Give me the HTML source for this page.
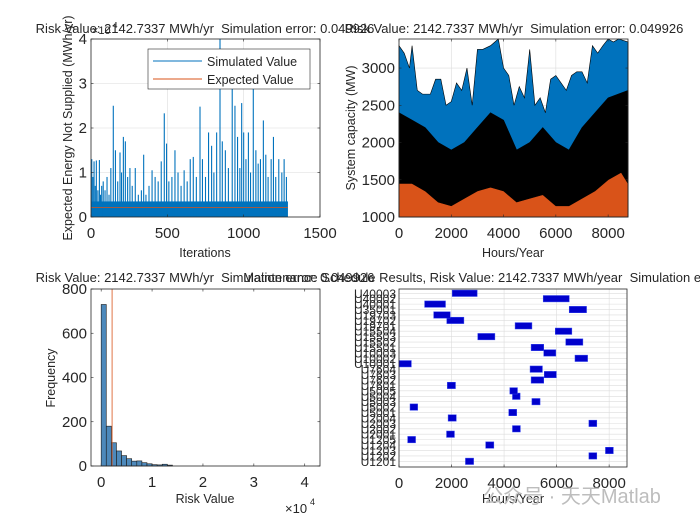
<!DOCTYPE html>
<html><head><meta charset="utf-8"><style>
body{margin:0;background:#fff;}
svg{display:block;font-family:"Liberation Sans",sans-serif;}
</style></head><body>
<svg id="fig" width="700" height="525" viewBox="0 0 700 525"></svg>
<script>
// ---- data ----
const eensIters=[5,12,20,28,35,45,55,62,70,80,92,105,118,130,146,160,175,190,200,212,225,240,255,270,290,310,330,345,360,380,400,420,440,460,480,495,510,530,550,570,590,610,630,650,670,690,714,730,750,770,790,805,823,845,860,880,900,925,943,960,975,987,1000,1015,1031,1045,1063,1080,1095,1110,1129,1145,1160,1180,1195,1210,1230,1250,1265,1280];
const eensVals=[1.3,0.9,1.25,0.7,1.27,0.6,1.28,0.5,0.7,0.8,0.6,0.9,0.5,1.1,2.5,1.5,0.8,1.45,1.0,1.8,1.7,0.9,1.1,0.7,1.1,0.5,0.6,1.4,0.5,0.7,1.05,0.9,0.8,1.25,2.33,1.65,0.8,0.9,1.5,1.0,0.7,1.05,0.8,1.3,1.35,0.9,2.48,1.3,0.9,1.9,1.6,1.0,1.9,4.0,1.7,1.5,1.1,2.93,2.5,1.8,1.1,2.56,1.9,1.3,1.9,1.0,2.9,1.5,1.2,1.3,2.17,1.4,0.9,1.3,1.8,0.9,1.3,1.0,1.3,0.9];
const eensBase=0.35, expectedRisk=2142.7337, nIter=1290;

const capHours=[0,200,400,500,700,900,1200,1400,1600,1800,2000,2200,2400,2600,2800,3000,3200,3500,3800,4000,4200,4400,4600,4800,5000,5200,5400,5600,5800,6000,6200,6400,6600,6800,7000,7200,7400,7600,7800,8000,8200,8400,8760];
const capTotal=[3300,3200,3000,3300,2700,2650,2650,2850,2850,2500,2550,2800,2700,3000,2500,3250,3250,3300,3400,3000,2900,2500,2750,2600,3250,2500,2600,2400,2850,2900,2800,2700,2900,2950,2950,2800,3300,3200,3300,3400,3350,3400,3350];
const availHours=[0,500,1000,1500,2000,2500,3000,3500,4000,4500,5000,5500,6000,6500,7000,7500,8000,8760];
const availCap=[2400,2300,2200,2000,1900,2000,2200,2400,2300,1900,2000,2200,2000,1900,2200,2400,2600,2700];
const loadHours=[0,500,1000,1500,2000,2500,3000,3500,4000,4500,5000,5500,6000,6500,7000,7500,8000,8500,8760];
const loadVals=[1450,1450,1350,1200,1150,1250,1350,1400,1350,1200,1250,1300,1150,1150,1250,1350,1500,1600,1450];

const histCounts=[730,180,105,68,47,33,22,23,15,10,6,5,8,4];
const binWidth=1000;

const unitNames=["U1201","U1202","U1203","U1204","U1205","U2001","U2002","U2003","U2004","U5001","U5002","U5003","U5004","U5005","U7601","U7602","U7603","U7604","U10001","U10002","U10003","U15501","U15502","U15503","U15504","U19701","U19702","U19703","U35001","U40001","U40002","U40003"];
const maintStart=[2530,7230,7860,3300,330,1810,4320,7230,1870,4180,420,5060,4320,4220,1840,5030,5530,4990,0,6700,5510,5030,6350,3000,5950,4420,1820,1320,6480,975,5490,2025];
const maintEnd=[2840,7530,8160,3610,630,2110,4620,7530,2180,4480,710,5370,4610,4510,2150,5510,5990,5460,470,7180,5970,5510,7000,3650,6580,5060,2470,1950,7140,1770,6480,2975];

// ---- helpers ----
const NS="http://www.w3.org/2000/svg", svg=document.getElementById('fig');
function mk(tag,attrs,parent){const e=document.createElementNS(NS,tag);for(const k in attrs)e.setAttribute(k,attrs[k]);(parent||svg).appendChild(e);return e;}
function txt(s,x,y,size,anchor,parent,extra){const t=mk('text',Object.assign({x:x,y:y,'font-size':size,'text-anchor':anchor||'middle',fill:'#262626'},extra||{}),parent);t.textContent=s;return t;}
function lin(d0,d1,r0,r1){return v=>r0+(v-d0)/(d1-d0)*(r1-r0);}

function axesFrame(L,T,R,B,xt,xs,yt,ys,grid,name){
  const g=mk('g',{});
  
  
  if(grid){xt.forEach(v=>{const x=xs(v);mk('line',{x1:x,x2:x,y1:T,y2:B,stroke:'#dcdcdc','stroke-width':0.6},g);});
           yt.forEach(v=>{const y=ys(v);mk('line',{x1:L,x2:R,y1:y,y2:y,stroke:'#dcdcdc','stroke-width':0.6},g);});}
  return g;
}
function box(L,T,R,B,xt,xs,xl,yt,ys,yl){
  mk('rect',{x:L,y:T,width:R-L,height:B-T,fill:'none',stroke:'#262626','stroke-width':0.8});
  xt.forEach((v,i)=>{const x=xs(v);mk('line',{x1:x,x2:x,y1:B,y2:B-2.5,stroke:'#262626','stroke-width':0.6});mk('line',{x1:x,x2:x,y1:T,y2:T+2.5,stroke:'#262626','stroke-width':0.6});if(xl)txt(xl[i],x,B+21,15);});
  yt.forEach((v,i)=>{const y=ys(v);mk('line',{x1:L,x2:L+2.5,y1:y,y2:y,stroke:'#262626','stroke-width':0.6});mk('line',{x1:R,x2:R-2.5,y1:y,y2:y,stroke:'#262626','stroke-width':0.6});if(yl)txt(yl[i],L-4,y+5,15,'end');});
}
const TITLE="Risk Value: 2142.7337 MWh/yr\u00a0\u00a0Simulation error: 0.049926";

// ---- TL: EENS ----
{const L=91,T=39,R=320,B=217;const xs=lin(0,1500,L,R),ys=lin(0,4,B,T);
 axesFrame(L,T,R,B,[0,500,1000,1500],xs,[0,1,2,3,4],ys,true,'eens-axes');
 const base=mk('rect',{x:xs(0),y:ys(eensBase),width:xs(nIter)-xs(0),height:ys(0)-ys(eensBase),fill:'#0072BD'});
 
 eensIters.forEach((it,i)=>{const l=mk('line',{x1:xs(it),x2:xs(it),y1:ys(0),y2:ys(eensVals[i]),stroke:'#0072BD','stroke-width':1.1});
   });
 const ex=mk('line',{x1:xs(0),x2:xs(nIter),y1:ys(expectedRisk/1e4),y2:ys(expectedRisk/1e4),stroke:'#D95319','stroke-width':0.8});
 
 box(L,T,R,B,[0,500,1000,1500],xs,['0','500','1000','1500'],[0,1,2,3,4],ys,['0','1','2','3','4']);
 txt('Iterations',205,257,12.5);
 const yl=txt('Expected Energy Not Supplied (MWh/yr)',0,0,12.5,'middle',svg,{transform:'translate(72,128) rotate(-90)'});
 
 txt('×10',92,34,11,'start');txt('4',113,28,8,'start');
 const lg=mk('g',{});
 mk('rect',{x:148,y:49,width:162,height:40,fill:'#fff',stroke:'#262626','stroke-width':0.6},lg);
 mk('line',{x1:153,x2:202,y1:61,y2:61,stroke:'#0072BD','stroke-width':1},lg);
 mk('line',{x1:153,x2:202,y1:79,y2:79,stroke:'#D95319','stroke-width':1},lg);
 txt('Simulated Value',207,66,12.5,'start',lg);txt('Expected Value',207,84,12.5,'start',lg);
 txt(TITLE,205,33,13);}

// ---- TR: capacity ----
{const L=399,T=39,R=628,B=217;const xs=lin(0,8760,L,R),ys=lin(1000,3390,B,T);
 axesFrame(L,T,R,B,[0,2000,4000,6000,8000],xs,[1000,1500,2000,2500,3000],ys,true,'capacity-axes');
 const poly=(hs,vs,fill,name)=>{let p=hs.map((h,i)=>xs(h)+','+ys(Math.min(vs[i],3390))).join(' ');p+=' '+xs(8760)+','+ys(1000)+' '+xs(0)+','+ys(1000);
   const e=mk('polygon',{points:p,fill:fill,stroke:'#000','stroke-width':0.6});};
 poly(capHours,capTotal,'#0072BD','total-capacity-area');
 poly(availHours,availCap,'#000','available-capacity-area');
 poly(loadHours,loadVals,'#D95319','load-area');
 box(L,T,R,B,[0,2000,4000,6000,8000],xs,['0','2000','4000','6000','8000'],[1000,1500,2000,2500,3000],ys,['1000','1500','2000','2500','3000']);
 txt('Hours/Year',513,257,12.5);
 txt('System capacity (MW)',0,0,12.5,'middle',svg,{transform:'translate(355,128) rotate(-90)'});
 txt(TITLE,514,33,13);}

// ---- BL: histogram ----
{const L=91,T=289,R=320,B=466;const xs=lin(-2000,43000,L,R),ys=lin(0,800,B,T);
 histCounts.forEach((c,i)=>{const r=mk('rect',{x:xs(i*binWidth),y:ys(c),width:xs(binWidth)-xs(0),height:ys(0)-ys(c),fill:'#4D89BB',stroke:'#1a1a1a','stroke-width':0.6});
   });
 const rl=mk('line',{x1:xs(expectedRisk),x2:xs(expectedRisk),y1:T,y2:B,stroke:'#D95319','stroke-width':0.8});
 
 box(L,T,R,B,[0,10000,20000,30000,40000],xs,['0','1','2','3','4'],[0,200,400,600,800],ys,['0','200','400','600','800']);
 txt('Risk Value',205,503,12.5);txt('Frequency',0,0,12.5,'middle',svg,{transform:'translate(55,378) rotate(-90)'});
 txt('×10',285,513,13,'start');txt('4',310,505,9,'start');
 txt(TITLE,205,282,13);}

// ---- BR: maintenance gantt ----
{const L=399,T=289,R=627,B=467;const xs=lin(0,8680,L,R),ys=v=>B-(v+1.05)*5.42;
 const g=mk('g',{});
 [2000,4000,6000,8000].forEach(v=>mk('line',{x1:xs(v),x2:xs(v),y1:T,y2:B,stroke:'#dcdcdc','stroke-width':0.6},g));
 unitNames.forEach((n,i)=>mk('line',{x1:L,x2:R,y1:ys(i),y2:ys(i),stroke:'#dcdcdc','stroke-width':0.6},g));
 maintStart.forEach((s,i)=>{const r=mk('rect',{x:xs(s),y:ys(i)-3.2,width:xs(maintEnd[i])-xs(s),height:6.4,fill:'#0000CC',stroke:'#3344ee','stroke-width':0.5});
   });
 mk('rect',{x:L,y:T,width:R-L,height:B-T,fill:'none',stroke:'#262626','stroke-width':0.8});
 [0,2000,4000,6000,8000].forEach(v=>{mk('line',{x1:xs(v),x2:xs(v),y1:B,y2:B-2.5,stroke:'#262626','stroke-width':0.6});txt(String(v),xs(v),B+21,15);});
 unitNames.forEach((n,i)=>txt(n,396,ys(i)+4.5,12,'end',svg,{'font-size':'12'}));
 txt('Hours/Year',513,503,12.5);
 txt('Maintenance Schedule Results, Risk Value: 2142.7337 MWh/year\u00a0\u00a0Simulation error: 0.049926',513,282,13);
 const w=txt('公众号 · 天天Matlab',572,503,20,'middle',svg,{fill:'#bdbdbd','font-family':'"Liberation Sans","Noto Sans CJK SC",sans-serif'});
 }
</script>
</body></html>
